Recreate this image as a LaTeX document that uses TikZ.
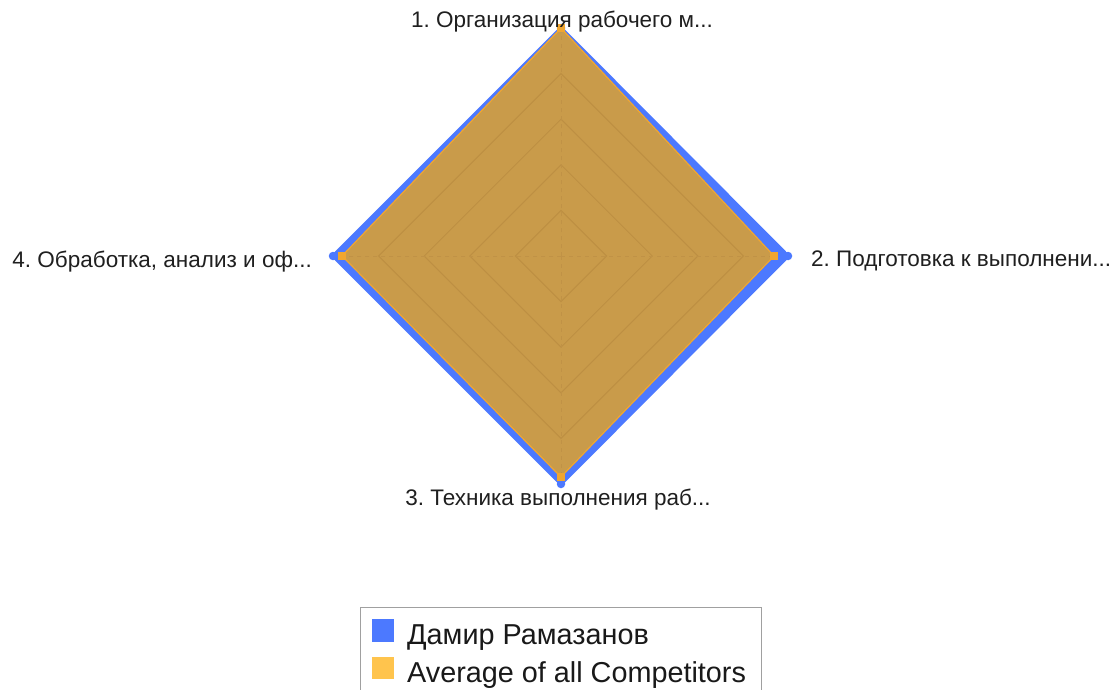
\documentclass[tikz,border=0pt]{standalone}
\usepackage{fontspec}
\setmainfont{Liberation Sans}
\usetikzlibrary{calc}
\frenchspacing
\definecolor{serblue}{RGB}{76,121,255}
\definecolor{serorange}{RGB}{255,196,77}
\definecolor{areafill}{RGB}{201,155,74}
\definecolor{gridline}{RGB}{189,143,67}
\definecolor{axisline}{RGB}{192,146,70}
\definecolor{orangeedge}{RGB}{240,166,48}
\definecolor{legendframe}{RGB}{160,160,160}
\tikzset{
  axislabel/.style={inner sep=0pt, font=\fontsize{22.5}{26}\selectfont, text=black!88},
  legendtext/.style={inner sep=0pt, anchor=base west, font=\fontsize{28.8}{32}\selectfont, text=black!90},
  gridring/.style={draw=gridline, line width=1pt},
  gridaxis/.style={draw=axisline, line width=0.8pt, dash pattern=on 4pt off 4pt},
  bluemark/.style={circle, fill=serblue, inner sep=0pt, minimum size=8.5pt},
  orangemark/.style={rectangle, fill=orangeedge, inner sep=0pt, minimum size=8pt},
  legendswatch/.style={rectangle, inner sep=0pt, minimum size=22.5pt},
}
\begin{document}
\begin{tikzpicture}[x=1pt,y=-1pt]
\useasboundingbox (0,0) rectangle (1118,690);
\fill[white] (0,0) rectangle (1118,690);
\coordinate (c) at (561,256);
% blue series
\coordinate (b1) at (561,28);
\coordinate (b2) at (788,256);
\coordinate (b3) at (561,484);
\coordinate (b4) at (333,256);
% orange series
\coordinate (o1) at (561,28);
\coordinate (o2) at (774,256);
\coordinate (o3) at (561,477);
\coordinate (o4) at (342,256);
% blue polygon
\filldraw[fill=serblue, draw=serblue, line width=3.5pt, line join=miter] (b1) -- (b2) -- (b3) -- (b4) -- cycle;
% orange polygon
\filldraw[fill=areafill, draw=orangeedge, line width=1.2pt, line join=miter] (o1) -- (o2) -- (o3) -- (o4) -- cycle;
% grid rings
\foreach \r in {45.6,91.2,136.8,182.4} {
  \draw[gridring] ($(c)+(0,-\r)$) -- ($(c)+(\r,0)$) -- ($(c)+(0,\r)$) -- ($(c)+(-\r,0)$) -- cycle;
}
\draw[gridaxis] (c) -- (o1);
\draw[gridaxis] (c) -- (o2);
\draw[gridaxis] (c) -- (o3);
\draw[gridaxis] (c) -- (o4);
% markers
\foreach \p in {b1,b2,b3,b4} { \node[bluemark] at (\p) {}; }
\foreach \p in {o1,o2,o3,o4} { \node[orangemark] at (\p) {}; }
% axis labels
\node[axislabel, anchor=base] (l1) at (562,28) {1. Организация рабочего м...};
\node[axislabel, anchor=base west] (l2) at (811,266) {2. Подготовка к выполнени...};
\node[axislabel, anchor=base] (l3) at (558,505) {3. Техника выполнения раб...};
\node[axislabel, anchor=base east] (l4) at (312,267) {4. Обработка, анализ и оф...};
% legend
\draw[legendframe, line width=1pt] (360.5,607) rectangle (761,700);
\node[legendswatch, fill=serblue] (sw1) at (383,630.5) {};
\node[legendswatch, fill=serorange] (sw2) at (383,668) {};
\node[legendtext] (lt1) at (407,644) {Дамир Рамазанов};
\node[legendtext] (lt2) at (407,682) {Average of all Competitors};
\end{tikzpicture}
\end{document}
